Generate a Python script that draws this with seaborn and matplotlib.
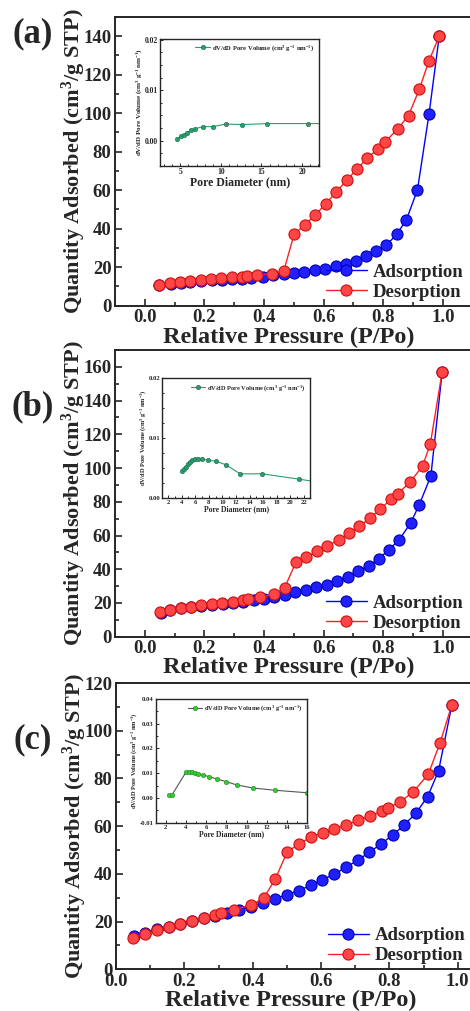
import numpy as np
import matplotlib
matplotlib.use("Agg")
import matplotlib.pyplot as plt
import seaborn as sns
from matplotlib.ticker import MultipleLocator, FormatStrFormatter

# ---------------- data ----------------
# Panel (a) isotherm
a_ads_p = [0.048, 0.089, 0.123, 0.153, 0.188, 0.224, 0.260, 0.293, 0.327, 0.358, 0.397, 0.431, 0.466,
           0.500, 0.535, 0.570, 0.605, 0.640, 0.674, 0.708, 0.743, 0.777, 0.811, 0.845, 0.878, 0.915, 0.954, 0.988]
a_ads_q = [10.5, 11.4, 12.0, 12.4, 12.8, 13.1, 13.5, 13.8, 14.1, 14.4, 15.1, 16.1, 16.6,
           17.0, 17.7, 18.4, 19.3, 20.5, 21.5, 23.3, 25.6, 28.2, 31.5, 37.0, 44.7, 60.2, 99.8, 140.0]
a_des_p = [0.048, 0.084, 0.119, 0.152, 0.187, 0.221, 0.257, 0.293, 0.327, 0.343, 0.378, 0.428, 0.466,
           0.501, 0.536, 0.572, 0.607, 0.642, 0.677, 0.711, 0.746, 0.781, 0.805, 0.848, 0.885, 0.921, 0.953, 0.988]
a_des_q = [10.9, 11.7, 12.3, 12.8, 13.3, 13.8, 14.2, 14.7, 15.1, 15.2, 15.9, 16.6, 17.9,
           37.1, 41.9, 47.1, 52.9, 59.0, 65.1, 70.9, 76.5, 81.4, 84.8, 91.8, 98.8, 112.4, 127.0, 140.1]
a_pore_d = [4.63, 5.05, 5.42, 5.79, 6.28, 6.85, 7.84, 9.0, 10.6, 12.62, 15.74, 20.77, 25.0]
a_pore_v = [0.00028, 0.00087, 0.0012, 0.0016, 0.0021, 0.0024, 0.0028, 0.0028, 0.0033, 0.0032, 0.0034, 0.0034, 0.0034]

# Panel (b) isotherm
b_ads_p = [0.054, 0.085, 0.120, 0.154, 0.190, 0.225, 0.261, 0.296, 0.331, 0.367, 0.401, 0.435, 0.471, 0.505,
           0.540, 0.576, 0.611, 0.646, 0.681, 0.715, 0.751, 0.785, 0.819, 0.853, 0.892, 0.921, 0.960, 0.998]
b_ads_q = [14.2, 15.8, 17.0, 17.8, 18.4, 18.8, 19.4, 20.0, 20.7, 21.7, 22.5, 23.5, 24.7, 26.3,
           27.7, 29.2, 30.8, 33.2, 35.6, 38.7, 42.1, 46.2, 51.6, 57.3, 67.4, 78.2, 95.4, 157.2]
b_des_p = [0.051, 0.085, 0.120, 0.154, 0.190, 0.224, 0.260, 0.296, 0.331, 0.347, 0.386, 0.435, 0.469, 0.508,
           0.542, 0.579, 0.612, 0.650, 0.686, 0.720, 0.755, 0.790, 0.826, 0.850, 0.889, 0.932, 0.958, 0.998]
b_des_q = [14.4, 15.8, 17.0, 17.8, 18.6, 19.2, 20.0, 20.5, 21.7, 22.3, 23.3, 25.1, 29.0, 44.5,
           47.2, 50.6, 53.9, 57.3, 61.6, 65.6, 70.1, 75.7, 81.4, 84.9, 91.5, 101.1, 114.2, 157.2]
b_pore_d = [4.02, 4.32, 4.61, 4.91, 5.24, 5.58, 5.98, 6.38, 6.97, 7.94, 9.08, 10.55, 12.62, 15.9, 21.3, 26.0]
b_pore_v = [0.00445, 0.0048, 0.0052, 0.0056, 0.0059, 0.0063, 0.0065, 0.0065, 0.0064, 0.0063, 0.0061,
            0.0055, 0.0040, 0.0040, 0.0031, 0.0023]

# Panel (c) isotherm
c_ads_p = [0.054, 0.085, 0.119, 0.154, 0.188, 0.222, 0.258, 0.291, 0.326, 0.361, 0.396, 0.430, 0.465, 0.500,
           0.535, 0.570, 0.604, 0.639, 0.673, 0.707, 0.741, 0.776, 0.811, 0.844, 0.878, 0.912, 0.944, 0.983]
c_ads_q = [14.0, 15.4, 16.8, 17.9, 19.0, 20.3, 21.4, 22.5, 23.5, 24.9, 26.3, 27.8, 29.5, 31.2,
           33.0, 35.2, 37.5, 39.9, 42.7, 45.7, 49.0, 52.6, 56.4, 60.6, 65.5, 72.4, 83.2, 110.9]
c_des_p = [0.049, 0.085, 0.119, 0.154, 0.188, 0.222, 0.258, 0.291, 0.308, 0.344, 0.396, 0.432, 0.466, 0.501,
           0.536, 0.571, 0.605, 0.639, 0.673, 0.708, 0.743, 0.779, 0.795, 0.832, 0.870, 0.914, 0.948, 0.983]
c_des_q = [13.0, 14.8, 16.5, 17.9, 19.0, 20.3, 21.5, 22.8, 23.5, 24.9, 27.0, 29.8, 37.8, 49.2,
           52.6, 55.4, 57.3, 58.9, 60.4, 62.4, 64.2, 66.2, 67.6, 70.2, 74.4, 81.8, 94.8, 110.9]
c_pore_d = [2.36, 2.59, 4.01, 4.31, 4.6, 4.87, 5.2, 5.69, 6.28, 7.04, 7.96, 9.08, 10.66, 12.84, 16.0]
c_pore_v = [0.0011, 0.0011, 0.0105, 0.0105, 0.0103, 0.0101, 0.0097, 0.0093, 0.0086, 0.0077, 0.0066,
            0.0052, 0.0040, 0.0031, 0.0021]

panel_labels = ["(a)", "(b)", "(c)"]
xlabel_main = "Relative Pressure (P/Po)"
ylabel_main = "Quantity Adsorbed (cm$^3$/g STP)"
inset_label = "dV/dD Pore Volume (cm$^3$ g$^{-1}$ nm$^{-1}$)"
inset_xlabel = "Pore Diameter (nm)"

# ---------------- style ----------------
sns.set_theme(style="ticks")
plt.rcParams["font.family"] = ["Liberation Serif", "DejaVu Serif"]
plt.rcParams["font.weight"] = "bold"
plt.rcParams["mathtext.fontset"] = "custom"
plt.rcParams["mathtext.rm"] = "Liberation Serif:bold"
plt.rcParams["mathtext.it"] = "Liberation Serif:bold"
plt.rcParams["mathtext.bf"] = "Liberation Serif:bold"
plt.rcParams["axes.linewidth"] = 1.4

W, H = 470, 1011
fig = plt.figure(figsize=(W / 100, H / 100), dpi=100)

def frac(l, t, r, b):
    return [l / W, 1 - b / H, (r - l) / W, (b - t) / H]

main_specs = [
    dict(rect=frac(115, 17, 472.6, 305.7), xlim=(-0.1, 1.1), ylim=(0, 150), ymaj=20,
         data=(a_ads_p, a_ads_q, a_des_p, a_des_q), label_y=34),
    dict(rect=frac(115, 350, 472.6, 636.7), xlim=(-0.1, 1.1), ylim=(0, 170), ymaj=20,
         data=(b_ads_p, b_ads_q, b_des_p, b_des_q), label_y=407),
    dict(rect=frac(116, 683, 474.8, 969.3), xlim=(0, 1.05), ylim=(0, 120), ymaj=20,
         data=(c_ads_p, c_ads_q, c_des_p, c_des_q), label_y=740),
]

inset_specs = [
    dict(rect=frac(160.3, 38.7, 319, 166), xlim=(2.53, 22.1), ylim=(-0.005, 0.0202),
         xmaj=5, xmin=1, ymaj=0.01, ymin=0.0025, d=a_pore_d, v=a_pore_v,
         line="#2a9d6f", face="#2a9d6f", edge="#1a6e4c", tick_fs=5.5, xl_fs=8.5, yl_fs=5, leg_fs=4.8),
    dict(rect=frac(162.3, 378.3, 310, 497.7), xlim=(1.16, 22.9), ylim=(0.0, 0.02),
         xmaj=2, xmin=1, ymaj=0.01, ymin=0.0025, d=b_pore_d, v=b_pore_v,
         line="#2a9d6f", face="#2a9d6f", edge="#1a6e4c", tick_fs=4.8, xl_fs=5.5, yl_fs=4.5, leg_fs=4.6),
    dict(rect=frac(155.7, 699, 307.3, 822.7), xlim=(1.0, 16.0), ylim=(-0.01, 0.04),
         xmaj=2, xmin=1, ymaj=0.01, ymin=0.005, d=c_pore_d, v=c_pore_v,
         line="#555555", face="#33cc33", edge="#1f8a1f", tick_fs=4.8, xl_fs=5.5, yl_fs=4.5, leg_fs=4.6),
]

blue_face, blue_edge = "#2020ff", "#0000b0"
red_face, red_edge = "#ff4545", "#d01010"

for i, (ms, ins) in enumerate(zip(main_specs, inset_specs)):
    ax = fig.add_axes(ms["rect"])
    ads_p, ads_q, des_p, des_q = ms["data"]
    sns.lineplot(x=ads_p, y=ads_q, ax=ax, sort=False, color="#0000ff", lw=1.0,
                 marker="o", markersize=8, markerfacecolor=blue_face, markeredgecolor=blue_edge,
                 markeredgewidth=0.8, label="Adsorption")
    sns.lineplot(x=des_p, y=des_q, ax=ax, sort=False, color="#ff2020", lw=1.0,
                 marker="o", markersize=8, markerfacecolor=red_face, markeredgecolor=red_edge,
                 markeredgewidth=0.8, label="Desorption")
    ax.set_xlim(*ms["xlim"])
    ax.set_ylim(*ms["ylim"])
    ax.xaxis.set_major_locator(MultipleLocator(0.2))
    ax.xaxis.set_minor_locator(MultipleLocator(0.1))
    ax.yaxis.set_major_locator(MultipleLocator(ms["ymaj"]))
    ax.yaxis.set_minor_locator(MultipleLocator(ms["ymaj"] / 2))
    ax.xaxis.set_major_formatter(FormatStrFormatter("%.1f"))
    ax.tick_params(which="both", direction="in", labelsize=13.5, width=1.2, pad=2.5,
                   top=False, right=False)
    ax.tick_params(which="major", length=5)
    ax.tick_params(which="minor", length=3)
    for lab in ax.get_xticklabels() + ax.get_yticklabels():
        lab.set_fontweight("bold")
    ax.set_xlabel(xlabel_main, fontsize=17.5, fontweight="bold")
    ax.set_ylabel(ylabel_main, fontsize=16, fontweight="bold")
    ax.xaxis.set_label_coords(0.5 - 5 / 357.6, -0.072)
    ax.yaxis.set_label_coords(-27 / 357.6, 0.5)
    leg = ax.legend(loc="lower right", frameon=False, fontsize=13.5, handlelength=2.2,
                    handletextpad=0.3, borderaxespad=0.1, labelspacing=0.15,
                    bbox_to_anchor=(1.0, -0.015))
    for t in leg.get_texts():
        t.set_fontweight("bold")
    fig.text(33 / W, 1 - ms["label_y"] / H, panel_labels[i], fontsize=25, fontweight="bold",
             ha="center", va="center")

    # inset
    axi = fig.add_axes(ins["rect"])
    sns.lineplot(x=ins["d"], y=ins["v"], ax=axi, sort=False, color=ins["line"], lw=0.8,
                 marker="o", markersize=3.2, markerfacecolor=ins["face"], markeredgecolor=ins["edge"],
                 markeredgewidth=0.4, label=inset_label)
    axi.set_xlim(*ins["xlim"])
    axi.set_ylim(*ins["ylim"])
    axi.xaxis.set_major_locator(MultipleLocator(ins["xmaj"]))
    axi.xaxis.set_minor_locator(MultipleLocator(ins["xmin"]))
    axi.yaxis.set_major_locator(MultipleLocator(ins["ymaj"]))
    axi.yaxis.set_minor_locator(MultipleLocator(ins["ymin"]))
    axi.yaxis.set_major_formatter(FormatStrFormatter("%.2f"))
    axi.tick_params(which="both", direction="in", labelsize=ins["tick_fs"], width=0.7, pad=1.5)
    axi.tick_params(which="major", length=2.5)
    axi.tick_params(which="minor", length=1.3)
    for sp in axi.spines.values():
        sp.set_linewidth(1.0)
    axi.set_xlabel(inset_xlabel, fontsize=ins["xl_fs"], fontweight="bold", labelpad=0.5)
    axi.set_ylabel(inset_label, fontsize=ins["yl_fs"], fontweight="bold", labelpad=0.5)
    lg = axi.legend(loc="upper right", frameon=False, fontsize=ins["leg_fs"], handlelength=2.2,
                    handletextpad=0.3, borderaxespad=0.3)

fig.savefig("out.png", dpi=100)
